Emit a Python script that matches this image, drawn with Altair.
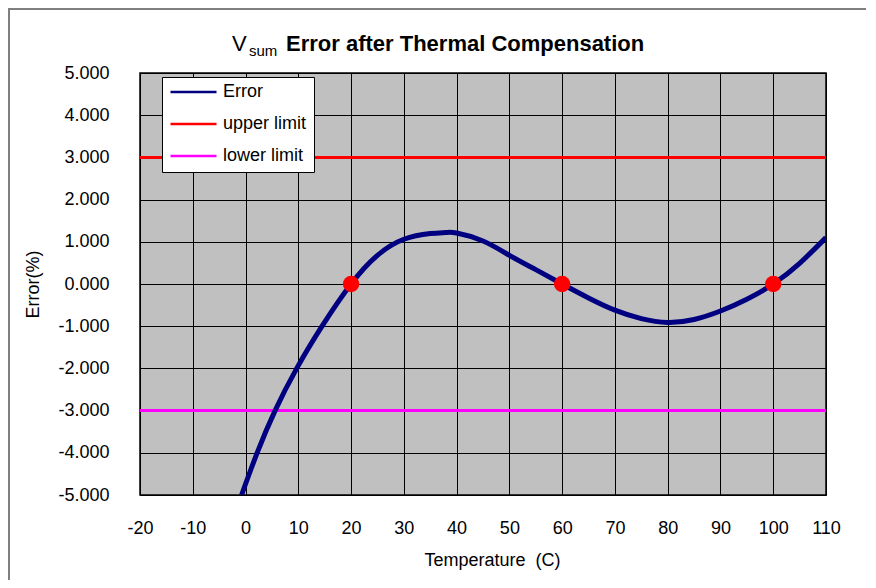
import altair as alt
import pandas as pd

# ---- data ----
temps = [-0.75, 2.2, 5.6, 9.7, 14.5, 20, 25, 30, 35, 38, 40, 45, 50, 55,
         60, 65, 70, 75, 80, 85, 90, 95, 100, 105, 110]
errors = [-5.0, -4.0, -3.0, -2.0, -1.0, 0.0, 0.68, 1.06, 1.195, 1.22, 1.207,
          1.02, 0.68, 0.34, 0.0, -0.33, -0.62, -0.82, -0.91, -0.84, -0.64, -0.36,
          0.0, 0.49, 1.1]
limit_temps = [-20, 110]
upper_limit = [3.0, 3.0]
lower_limit = [-3.0, -3.0]
zero_temps = [20, 60, 100]
zero_values = [0.0, 0.0, 0.0]
series_names = ["Error", "upper limit", "lower limit"]
series_colors = ["#000080", "#FF0000", "#FF00FF"]
x_ticks = [-20, -10, 0, 10, 20, 30, 40, 50, 60, 70, 80, 90, 100, 110]
y_ticks = [-5, -4, -3, -2, -1, 0, 1, 2, 3, 4, 5]
title_v = "V"
title_sub = "sum"
title_main = "Error after Thermal Compensation"
x_title = "Temperature\u00a0 (C)"
y_title = "Error(%)"

FONT = "Liberation Sans"
W, H = 686, 422

err_df = pd.DataFrame({"T": temps, "value": errors, "series": "Error"})
lim_df = pd.DataFrame({
    "T": limit_temps + limit_temps,
    "value": upper_limit + lower_limit,
    "series": ["upper limit"] * 2 + ["lower limit"] * 2,
})
dots_df = pd.DataFrame({"T": zero_temps, "value": zero_values})

xscale = alt.Scale(domain=[x_ticks[0], x_ticks[-1]], nice=False, zero=False)
yscale = alt.Scale(domain=[y_ticks[0], y_ticks[-1]], nice=False, zero=False)
cscale = alt.Scale(domain=series_names, range=series_colors)

minus_fix = "replace(datum.label, '\u2212', '-')"

x_axis = alt.Axis(
    values=x_ticks, grid=True, gridColor="black", gridWidth=1, gridOpacity=1,
    domain=False, ticks=False, labelPadding=24, labelFontSize=18, labelFont=FONT,
    labelColor="black", labelFlush=False, labelOverlap=False, labelExpr=minus_fix,
    title=x_title, titleFont=FONT, titleFontSize=18, titleFontWeight="normal",
    titleColor="black", titleX=352, titleY=65, titleBaseline="middle", titleAlign="center",
)
y_axis = alt.Axis(
    values=y_ticks, grid=True, gridColor="black", gridWidth=1, gridOpacity=1,
    domain=False, ticks=False, labelPadding=31, labelFontSize=18, labelFont=FONT,
    labelColor="black", labelFlush=False, labelOverlap=False, format=".3f",
    labelExpr=minus_fix,
    title=y_title, titleFont=FONT, titleFontSize=18, titleFontWeight="normal",
    titleColor="black", titleX=-107, titleY=211, titleAngle=-90,
    titleBaseline="middle", titleAlign="center",
)

legend = alt.Legend(
    orient="none", legendX=22, legendY=4, title=None, fillColor="white",
    strokeColor="black", padding=7, symbolType="stroke", symbolSize=2116,
    symbolStrokeWidth=2.5, clipHeight=16, rowPadding=14, labelFont=FONT,
    labelFontSize=18, labelOffset=5, labelColor="black",
)

lines_lim = alt.Chart(lim_df).mark_line(strokeWidth=3, clip=True).encode(
    x=alt.X("T:Q", scale=xscale, axis=x_axis),
    y=alt.Y("value:Q", scale=yscale, axis=y_axis),
    color=alt.Color("series:N", scale=cscale, legend=legend),
    detail="series:N",
)
line_err = alt.Chart(err_df).mark_line(strokeWidth=5, interpolate="natural", clip=True).encode(
    x=alt.X("T:Q", scale=xscale),
    y=alt.Y("value:Q", scale=yscale),
    color=alt.Color("series:N", scale=cscale, legend=legend),
)
dots = alt.Chart(dots_df).mark_circle(size=270, opacity=1, color="#FF0000").encode(
    x=alt.X("T:Q", scale=xscale),
    y=alt.Y("value:Q", scale=yscale),
)

one = pd.DataFrame({"a": [0]})
title_v_mark = alt.Chart(pd.DataFrame({"t": [title_v]})).mark_text(
    font=FONT, fontSize=22, align="left", baseline="alphabetic", color="black"
).encode(text="t:N", x=alt.value(92), y=alt.value(-22))
title_sub_mark = alt.Chart(pd.DataFrame({"t": [title_sub]})).mark_text(
    font=FONT, fontSize=15, align="left", baseline="alphabetic", color="black"
).encode(text="t:N", x=alt.value(109), y=alt.value(-17))
title_main_mark = alt.Chart(pd.DataFrame({"t": [title_main]})).mark_text(
    font=FONT, fontSize=22, fontWeight="bold", align="left", baseline="alphabetic",
    color="black"
).encode(text="t:N", x=alt.value(146), y=alt.value(-22))

frame = alt.Chart(one).mark_rect(fillOpacity=0, stroke="#7f7f7f", strokeWidth=2).encode(
    x=alt.value(-131), x2=alt.value(W + 100), y=alt.value(-64), y2=alt.value(H + 200)
)

chart = alt.layer(
    frame, lines_lim, line_err, dots, title_v_mark, title_sub_mark, title_main_mark
).properties(
    width=W, height=H,
    padding={"left": 132, "top": 65, "right": 40, "bottom": 85},
    autosize=alt.AutoSizeParams(type="none"),
    background="white",
).configure_view(
    fill="#C0C0C0", stroke="black", strokeWidth=1.5
)

chart.save("out.html", embed_options={"renderer": "svg", "actions": False})
